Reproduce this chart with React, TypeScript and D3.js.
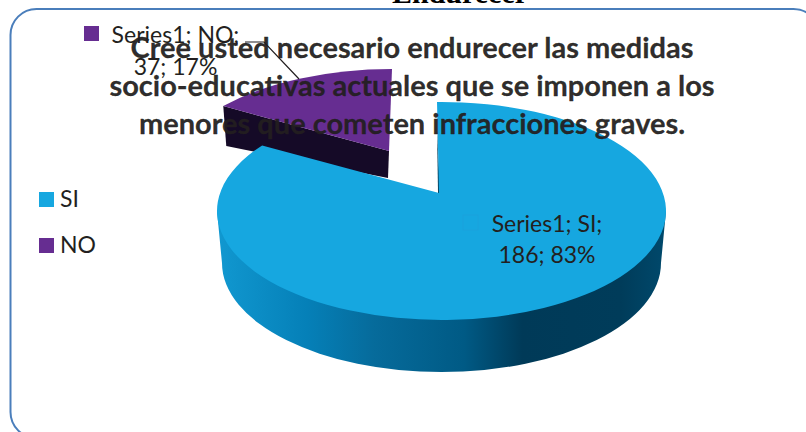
import React from "react";
import * as d3 from "d3";

const categories = ["SI", "NO"];
const values = [186, 37];
const percents = [83, 17];
const seriesName = "Series1";
const titleLines = [
  "Cree usted necesario endurecer las medidas",
  "socio-educativas actuales que se imponen a los",
  "menores que cometen infracciones graves.",
];
const topTitle = "Endurecer";
const colors = ["#16a7e0", "#662d91"];

const W = 806, H = 432;
const RX = 224.5, RY = 109;
const BIG = { cx: 441.5, cy: 211, apexX: 439, apexY: 193 };
const SMALL = { cx: 392, cy: 178, apexX: 389, apexY: 151 };
const WARP = 0.74;

// pie angle -> ellipse parameter (foreshortened by the 3D tilt)
const warp = (a: number) => {
  const t = Math.atan2(WARP * Math.sin(a), Math.cos(a));
  return t < -0.1 ? t + 2 * Math.PI : t;
};
const pt = (c: { cx: number; cy: number }, t: number, rx = RX, ry = RY): [number, number] => [
  c.cx + rx * Math.sin(t),
  c.cy - ry * Math.cos(t),
];

function wedge(c: typeof BIG, a0: number, a1: number) {
  const [x0, y0] = pt(c, a0);
  const [x1, y1] = pt(c, a1);
  const large = a1 - a0 > Math.PI ? 1 : 0;
  return `M${c.apexX},${c.apexY}L${x0},${y0}A${RX},${RY} 0 ${large} 1 ${x1},${y1}Z`;
}

export default function App() {
  const arcs = d3.pie<number>().sort(null).startAngle(-0.02).endAngle(2 * Math.PI - 0.02)(values);
  const aSi0 = arcs[0].startAngle, aSi1 = warp(arcs[0].endAngle);
  const aNo0 = warp(arcs[1].startAngle) + 0.075, aNo1 = 2 * Math.PI;

  const bigPath = wedge(BIG, aSi0, aSi1);
  const smallPath = wedge(SMALL, aNo0, aNo1);
  const [nx, ny] = pt(SMALL, aNo0);

  const wallStops: [number, string][] = [
    [0, "#1198d0"], [0.1, "#0b8cc4"], [0.2, "#0580b8"], [0.35, "#066b9b"],
    [0.55, "#005a85"], [0.68, "#003a58"], [0.9, "#003c5a"], [1, "#00496c"],
  ];
  const wallDepth = 52;
  const wall = `M${BIG.cx - RX},${BIG.cy}L${BIG.cx - RX + 5},${BIG.cy + wallDepth}A${RX - 5},${RY} 0 0 0 ${BIG.cx + RX - 5},${BIG.cy + wallDepth}L${BIG.cx + RX},${BIG.cy}Z`;

  return (
    <svg width={W} height={H} style={{ position: "fixed", left: 0, top: 0, background: "#fff" }}>
      <defs>
        <linearGradient id="wall" x1="0" x2="1" y1="0" y2="0">
          {wallStops.map(([o, c]) => <stop key={o} offset={o} stopColor={c} />)}
        </linearGradient>
      </defs>
      <text x={460} y={3} textAnchor="middle" fontFamily="Liberation Serif" fontWeight="bold" fontSize={30} fill="#000">{topTitle}</text>
      <rect x={10.5} y={9} width={809} height={429} rx={26} ry={26} fill="#fff" stroke="#4a7ebb" strokeWidth={2} />

      {/* NO slice */}
      <path d={`M${nx},${ny}L${SMALL.apexX},${SMALL.apexY}L${SMALL.apexX - 1},${SMALL.apexY + 27}L${nx + 3},${ny + 40}Z`} fill="#150a27" />
      <path d={smallPath} fill={colors[1]} />

      {/* SI slice */}
      <path d={wall} fill="url(#wall)" />
      <path d={`M437,128L${BIG.apexX - 1},${BIG.apexY}L${BIG.apexX + 1},${BIG.apexY}Z`} fill="#06405c" />
      <path d={bigPath} fill={colors[0]} />

      {/* leader */}
      <path d="M245,42L264,42L299,79" fill="none" stroke="#231f20" strokeWidth={1.2} />

      {/* data labels */}
      <g fontFamily="Lato" fontSize={23} fill="#231f20" textAnchor="middle">
        <rect x={84} y={26} width={15} height={15} fill={colors[1]} />
        <text x={175.5} y={43}>{`${seriesName}; ${categories[1]};`}</text>
        <text x={175.5} y={75}>{`${values[1]}; ${percents[1]}%`}</text>
        <rect x={463} y={215} width={15} height={15} fill={colors[0]} stroke="#1aa2dc" />
        <text x={547} y={232}>{`${seriesName}; ${categories[0]};`}</text>
        <text x={547} y={263}>{`${values[0]}; ${percents[0]}%`}</text>
      </g>

      {/* legend */}
      <g fontFamily="Lato" fontSize={23} fill="#231f20">
        {categories.map((c, i) => (
          <g key={c}>
            <rect x={39} y={192 + i * 46} width={15} height={15} fill={colors[i]} />
            <text x={60} y={207 + i * 46}>{c}</text>
          </g>
        ))}
      </g>

      {/* title */}
      <g fontFamily="Lato" fontWeight="bold" fontSize={29} fill="#231f20" fillOpacity={0.95} stroke="#231f20" strokeWidth={0.3} strokeOpacity={0.9} textAnchor="middle">
        {titleLines.map((l, i) => <text key={l} x={412} y={58 + i * 38}>{l}</text>)}
      </g>
    </svg>
  );
}
